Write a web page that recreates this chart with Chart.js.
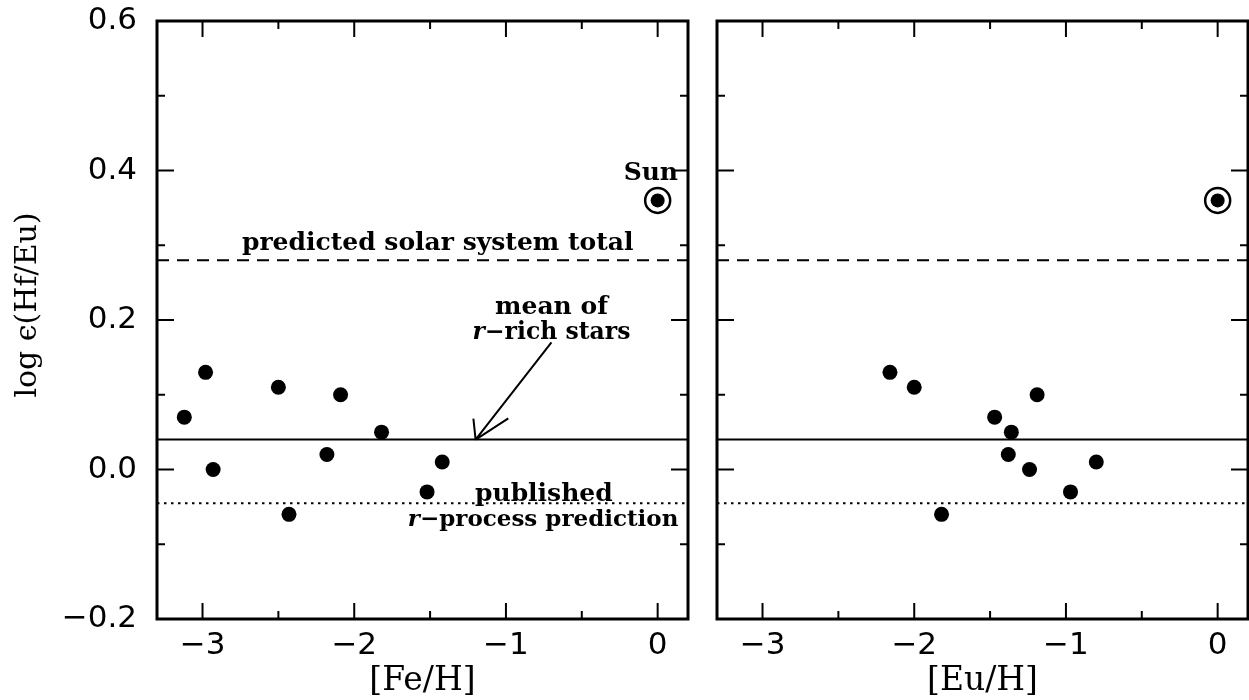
<!DOCTYPE html>
<html>
<head>
<meta charset="utf-8">
<script src="https://cdn.jsdelivr.net/npm/chart.js@4.4.1/dist/chart.umd.min.js"></script>
<style>
  html, body { margin: 0; padding: 0; background: #fff; }
  #wrap { position: relative; width: 1249px; height: 700px; }
  canvas { position: absolute; top: 0; }
</style>
</head>
<body>
<div id="wrap">
  <canvas id="feChart" width="700" height="700" style="left:0"></canvas>
  <canvas id="euChart" width="549" height="700" style="left:700px"></canvas>
</div>
<script>
// log eps(Hf/Eu) for the r-rich stars
const hfEu = [0.07, 0.13, 0.00, 0.11, -0.06, 0.02, 0.10, 0.05, -0.03, 0.01];
// [Fe/H] and [Eu/H] of the same stars, same order
const feH  = [-3.12, -2.98, -2.93, -2.50, -2.43, -2.18, -2.09, -1.82, -1.52, -1.42];
const euH  = [-1.47, -2.16, -1.24, -2.00, -1.82, -1.38, -1.19, -1.36, -0.97, -0.80];

// solar value
const sunX = [0];
const sunY = [0.36];

// reference levels
const meanRich   = 0.04;   // mean of r-rich stars
const solarTotal = 0.28;   // predicted solar system total
const rProcess   = -0.045; // published r-process prediction

const xRange = [-3.3, 0.2];
const yRange = [-0.2, 0.6];
const xMajor = [-3, -2, -1, 0];
const xMinor = [-2.5, -1.5, -0.5];
const yMajor = [-0.2, 0, 0.2, 0.4, 0.6];
const yMinor = [-0.1, 0.1, 0.3, 0.5];

const SERIF = '"DejaVu Serif", serif';
const SANS = '"DejaVu Sans", sans-serif';
const minus = s => s.replace('-', '\u2212');

// text notes for the [Fe/H] panel, placed in data units
const notes = [
  { parts: [['predicted solar system total']], x: -1.45, y: 0.302 },
  { parts: [['Sun']], x: -0.045, y: 0.396 },
  { parts: [['mean of']], x: -0.70, y: 0.217 },
  { parts: [['r', true], ['\u2212rich stars']], x: -0.70, y: 0.183, size: 23.5 },
  { parts: [['published']], x: -0.75, y: -0.033 },
  { parts: [['r', true], ['\u2212process prediction']], x: -0.755, y: -0.068, size: 23 }
];
const arrow = { from: [-0.70, 0.17], to: [-1.20, meanRich] };

function level(y, dash) {
  return {
    type: 'line',
    data: [{ x: xRange[0], y: y }, { x: xRange[1], y: y }],
    borderColor: '#000',
    borderWidth: 2,
    borderDash: dash,
    pointRadius: 0,
    order: 5
  };
}

// no extra room for overhanging tick labels
function noPad(s) {
  s.paddingTop = 0; s.paddingBottom = 0;
  s.paddingLeft = 0; s.paddingRight = 0;
}

// inner ticks on all four sides plus the box
const frameTicks = {
  id: 'frameTicks',
  afterDatasetsDraw(chart) {
    const { ctx, chartArea: a, scales: { x, y } } = chart;
    ctx.save();
    ctx.strokeStyle = '#000';
    ctx.lineWidth = 2;
    const seg = (x1, y1, x2, y2) => { ctx.beginPath(); ctx.moveTo(x1, y1); ctx.lineTo(x2, y2); ctx.stroke(); };
    const xt = (vals, len) => vals.forEach(v => {
      const p = x.getPixelForValue(v);
      seg(p, a.bottom, p, a.bottom - len);
      seg(p, a.top, p, a.top + len);
    });
    const yt = (vals, len) => vals.forEach(v => {
      const p = y.getPixelForValue(v);
      seg(a.left, p, a.left + len, p);
      seg(a.right, p, a.right - len, p);
    });
    xt(xMajor, 16); xt(xMinor, 8);
    yt(yMajor, 17); yt(yMinor, 8);
    ctx.lineWidth = 3;
    ctx.strokeRect(a.left, a.top, a.right - a.left, a.bottom - a.top);
    ctx.restore();
  }
};

function drawParts(ctx, parts, cx, cy, size) {
  const fontOf = it => (it ? 'italic ' : '') + 'bold ' + size + 'px ' + SERIF;
  let w = 0;
  parts.forEach(([t, it]) => { ctx.font = fontOf(it); w += ctx.measureText(t).width; });
  let px = cx - w / 2;
  ctx.textBaseline = 'middle';
  ctx.textAlign = 'left';
  parts.forEach(([t, it]) => {
    ctx.font = fontOf(it);
    ctx.fillText(t, px, cy);
    px += ctx.measureText(t).width;
  });
}

const feNotes = {
  id: 'feNotes',
  afterDraw(chart) {
    const { ctx, scales: { x, y } } = chart;
    ctx.save();
    ctx.fillStyle = '#000';
    notes.forEach(n => drawParts(ctx, n.parts, x.getPixelForValue(n.x), y.getPixelForValue(n.y), n.size || 25));

    // arrow pointing at the mean line
    const x0 = x.getPixelForValue(arrow.from[0]), y0 = y.getPixelForValue(arrow.from[1]);
    const x1 = x.getPixelForValue(arrow.to[0]), y1 = y.getPixelForValue(arrow.to[1]);
    const ang = Math.atan2(y0 - y1, x0 - x1);
    ctx.strokeStyle = '#000';
    ctx.lineWidth = 2;
    ctx.beginPath();
    ctx.moveTo(x0, y0); ctx.lineTo(x1, y1);
    [[-44, 21], [19, 39]].forEach(([da, len]) => {
      const t = ang + da * Math.PI / 180;
      ctx.moveTo(x1, y1);
      ctx.lineTo(x1 + len * Math.cos(t), y1 + len * Math.sin(t));
    });
    ctx.stroke();

    // y axis title
    ctx.translate(28, 305);
    ctx.rotate(-Math.PI / 2);
    ctx.font = '30px ' + SERIF;
    ctx.textAlign = 'center';
    ctx.textBaseline = 'middle';
    ctx.fillText('log \u03F5(Hf/Eu)', 0, 0);
    ctx.restore();
  }
};

function makeChart(id, xs, xTitle, showY, yWidth, padRight, plugins) {
  const stars = xs.map((v, i) => ({ x: v, y: hfEu[i] }));
  const sun = sunX.map((v, i) => ({ x: v, y: sunY[i] }));
  return new Chart(document.getElementById(id).getContext('2d'), {
    type: 'scatter',
    data: {
      datasets: [
        { data: stars, pointRadius: 7.5, backgroundColor: '#000', borderWidth: 0, order: 1 },
        { data: sun, pointRadius: 7, backgroundColor: '#000', borderWidth: 0, order: 1 },
        { data: sun, pointRadius: 12.5, backgroundColor: 'rgba(0,0,0,0)', borderColor: '#000', borderWidth: 2.5, order: 2 },
        level(solarTotal, [12, 8]),
        level(meanRich, []),
        level(rProcess, [2.5, 4.5])
      ]
    },
    options: {
      responsive: false,
      animation: false,
      devicePixelRatio: 1,
      events: [],
      layout: { autoPadding: false, padding: { top: 21, right: padRight, bottom: 0, left: 0 } },
      plugins: { legend: { display: false }, tooltip: { enabled: false } },
      scales: {
        x: {
          type: 'linear',
          min: xRange[0], max: xRange[1],
          afterBuildTicks: s => { s.ticks = xMajor.map(v => ({ value: v })); },
          afterFit: s => { s.height = 81; noPad(s); },
          grid: { display: false, drawTicks: false },
          border: { display: false },
          ticks: {
            color: '#000', padding: 8,
            font: { family: SANS, size: 31 },
            callback: v => minus(String(v))
          },
          title: {
            display: true, text: xTitle, color: '#000', padding: 0,
            font: { family: SERIF, size: 33, lineHeight: 1.12 }
          }
        },
        y: {
          type: 'linear',
          min: yRange[0], max: yRange[1],
          afterBuildTicks: s => { s.ticks = yMajor.map(v => ({ value: v })); },
          afterFit: s => { s.width = yWidth; noPad(s); },
          grid: { display: false, drawTicks: false },
          border: { display: false },
          ticks: {
            display: showY, color: '#000', padding: 20,
            font: { family: SANS, size: 31 },
            callback: v => minus(v.toFixed(1))
          }
        }
      }
    },
    plugins: [frameTicks].concat(plugins)
  });
}

makeChart('feChart', feH, '[Fe/H]', true, 157, 12, [feNotes]);
makeChart('euChart', euH, '[Eu/H]', false, 17, 1, []);
</script>
</body>
</html>
